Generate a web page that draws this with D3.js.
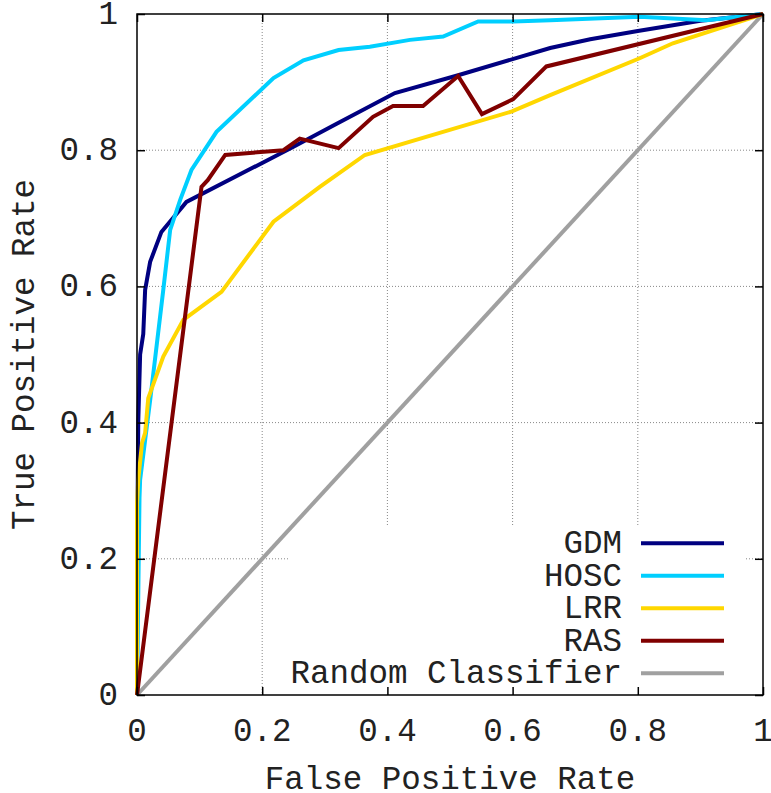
<!DOCTYPE html>
<html>
<head>
<meta charset="utf-8">
<script src="https://cdn.jsdelivr.net/npm/d3@7"></script>
<style>
	body { margin: 0; background: #fff; }
	svg { display: block; }
	text { font-family: "Liberation Mono", "DejaVu Sans Mono", monospace; fill: #222; }
</style>
</head>
<body>
<svg id="chart" width="771" height="793"></svg>
<script>

// ROC points (false positive rate / true positive rate)
let gdmFpr = [0, 0.001, 0.002, 0.005, 0.010, 0.013, 0.021, 0.039, 0.079, 0.25, 0.319, 0.412, 0.513, 0.66, 0.724, 0.80, 0.90, 1];
let gdmTpr = [0, 0.29, 0.40, 0.50, 0.53, 0.595, 0.636, 0.68, 0.724, 0.805, 0.839, 0.884, 0.910, 0.950, 0.963, 0.975, 0.99, 1];

let hoscFpr = [0, 0.004, 0.005, 0.021, 0.042, 0.053, 0.069, 0.087, 0.127, 0.218, 0.266, 0.322, 0.372, 0.436, 0.489, 0.545, 0.601, 0.66, 0.803, 0.91, 1];
let hoscTpr = [0, 0.29, 0.316, 0.433, 0.595, 0.683, 0.727, 0.771, 0.827, 0.906, 0.932, 0.947, 0.952, 0.962, 0.967, 0.989, 0.989, 0.991, 0.996, 0.991, 1];

let lrrFpr = [0, 0, 0.002, 0.008, 0.013, 0.018, 0.042, 0.074, 0.135, 0.218, 0.292, 0.364, 0.599, 0.66, 0.803, 0.856, 1];
let lrrTpr = [0, 0.28, 0.316, 0.37, 0.385, 0.436, 0.497, 0.551, 0.592, 0.695, 0.746, 0.793, 0.857, 0.881, 0.935, 0.957, 1];

let rasFpr = [0, 0.103, 0.113, 0.141, 0.234, 0.260, 0.322, 0.377, 0.409, 0.457, 0.513, 0.551, 0.601, 0.654, 1];
let rasTpr = [0, 0.746, 0.756, 0.793, 0.800, 0.817, 0.803, 0.849, 0.865, 0.865, 0.909, 0.853, 0.875, 0.923, 1];

let randFpr = [0, 1];
let randTpr = [0, 1];

let seriesNames = ['GDM', 'HOSC', 'LRR', 'RAS', 'Random Classifier'];
let seriesColors = ['#000080', '#00cfff', '#ffd700', '#800000', '#a0a0a0'];
let tickValues = [0, 0.2, 0.4, 0.6, 0.8, 1];
let tickLabels = ['0', '0.2', '0.4', '0.6', '0.8', '1'];

let xLabel = 'False Positive Rate';
let yLabel = 'True Positive Rate';

// layout
let plotLeft = 137;
let plotRight = 763;
let plotTop = 14;
let plotBottom = 695;
let fontSize = 32.5;

let svg = d3.select('#chart');

let xScale = d3.scaleLinear().domain([0, 1]).range([plotLeft, plotRight]);
let yScale = d3.scaleLinear().domain([0, 1]).range([plotBottom, plotTop]);

// grid
let gridGrp = svg.append('g')
	.attr('stroke', '#888')
	.attr('stroke-width', 1)
	.attr('stroke-dasharray', '1,2');
tickValues.slice(1, -1).forEach(function (t) {
	gridGrp.append('line')
		.attr('x1', xScale(t)).attr('x2', xScale(t))
		.attr('y1', plotTop).attr('y2', plotBottom);
	gridGrp.append('line')
		.attr('x1', plotLeft).attr('x2', plotRight)
		.attr('y1', yScale(t)).attr('y2', yScale(t));
});

// opaque key box
let keyLeft = 288;
let keyRight = 746;
let keyTop = 526;
svg.append('rect')
	.attr('x', keyLeft)
	.attr('y', keyTop)
	.attr('width', keyRight - keyLeft)
	.attr('height', plotBottom - keyTop)
	.attr('fill', '#fff');

// curves
let allFpr = [gdmFpr, hoscFpr, lrrFpr, rasFpr, randFpr];
let allTpr = [gdmTpr, hoscTpr, lrrTpr, rasTpr, randTpr];
let line = d3.line()
	.x(d => xScale(d[0]))
	.y(d => yScale(d[1]));

// random classifier first so the others sit on top
[4, 0, 1, 2, 3].forEach(function (i) {
	let pts = allFpr[i].map((f, k) => [f, allTpr[i][k]]);
	svg.append('path')
		.attr('fill', 'none')
		.attr('stroke', seriesColors[i])
		.attr('stroke-width', 4)
		.attr('stroke-linejoin', 'miter')
		.attr('d', line(pts));
});

// axes: inward ticks on all four sides
let tickLen = 8;
let axisBottom = d3.axisBottom(xScale).tickValues(tickValues).tickSize(-tickLen).tickFormat('');
let axisTop = d3.axisTop(xScale).tickValues(tickValues).tickSize(-tickLen).tickFormat('');
let axisLeft = d3.axisLeft(yScale).tickValues(tickValues).tickSize(-tickLen).tickFormat('');
let axisRight = d3.axisRight(yScale).tickValues(tickValues).tickSize(-tickLen).tickFormat('');

svg.append('g').attr('transform', `translate(0,${plotBottom})`).call(axisBottom);
svg.append('g').attr('transform', `translate(0,${plotTop})`).call(axisTop);
svg.append('g').attr('transform', `translate(${plotLeft},0)`).call(axisLeft);
svg.append('g').attr('transform', `translate(${plotRight},0)`).call(axisRight);
svg.selectAll('.domain').remove();
svg.selectAll('.tick line').attr('stroke', '#000').attr('stroke-width', 1.5);

// border
svg.append('rect')
	.attr('x', plotLeft)
	.attr('y', plotTop)
	.attr('width', plotRight - plotLeft)
	.attr('height', plotBottom - plotTop)
	.attr('fill', 'none')
	.attr('stroke', '#000')
	.attr('stroke-width', 1.5);

// tick labels
svg.append('g').selectAll('text')
	.data(tickValues)
	.join('text')
	.attr('x', d => xScale(d))
	.attr('y', 741)
	.attr('text-anchor', 'middle')
	.attr('font-size', fontSize)
	.text((d, i) => tickLabels[i]);

svg.append('g').selectAll('text')
	.data(tickValues)
	.join('text')
	.attr('x', 118)
	.attr('y', d => yScale(d) + 10)
	.attr('text-anchor', 'end')
	.attr('font-size', fontSize)
	.text((d, i) => tickLabels[i]);

// axis titles
svg.append('text')
	.attr('x', (plotLeft + plotRight) / 2)
	.attr('y', 789)
	.attr('text-anchor', 'middle')
	.attr('font-size', fontSize)
	.text(xLabel);

svg.append('text')
	.attr('transform', `translate(34,${(plotTop + plotBottom) / 2}) rotate(-90)`)
	.attr('text-anchor', 'middle')
	.attr('font-size', fontSize)
	.text(yLabel);

// legend
let keyRowY = [543.3, 575.7, 608.3, 640.7, 673.3];
let keyGrp = svg.append('g');
seriesNames.forEach(function (name, i) {
	keyGrp.append('text')
		.attr('x', 622)
		.attr('y', keyRowY[i] + 10)
		.attr('text-anchor', 'end')
		.attr('font-size', fontSize)
		.text(name);
	keyGrp.append('line')
		.attr('x1', 641)
		.attr('x2', 724)
		.attr('y1', keyRowY[i])
		.attr('y2', keyRowY[i])
		.attr('stroke', seriesColors[i])
		.attr('stroke-width', 4);
});

</script>
</body>
</html>
